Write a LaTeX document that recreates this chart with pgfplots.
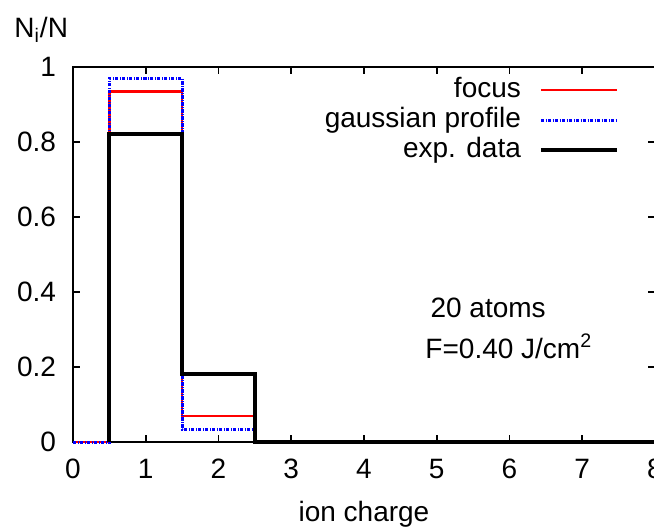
\documentclass[border=0pt]{standalone}
\usepackage{fontspec}
\setmainfont{Liberation Sans}
\usepackage{pgfplots}
\pgfplotsset{compat=1.18}
\newcommand\ff{\fontsize{14}{17}\selectfont}
\definecolor{gpred}{RGB}{255,0,0}
\definecolor{gpblue}{RGB}{0,0,255}
\begin{document}
\begin{tikzpicture}[font=\ff]
\begin{axis}[
  at={(0,0)}, anchor=south west,
  scale only axis, width=291pt, height=187.5pt,
  xmin=0, xmax=8, ymin=0, ymax=1,
  xtick={0,1,2,3,4,5,6,7,8},
  ytick={0,0.2,0.4,0.6,0.8,1},
  tick align=inside, major tick length=3.5pt,
  axis line style={line width=0.9pt},
  every tick/.style={black, line width=0.9pt},
  /pgf/number format/assume math mode=true,
  tick label style={font=\ff},
  xticklabel style={yshift=-5pt},
  yticklabel style={xshift=-5pt},
  xlabel={ion charge}, xlabel style={font=\ff, yshift=-4.5pt},
  clip=false,
  legend image code/.code={\draw[#1] (0pt,0pt) -- (38pt,0pt);},
  legend style={draw=none, fill=none, font=\ff,
    at={(rel axis cs:0.949,0.99)}, anchor=north east,
    nodes={inner sep=1pt, text height=10pt, text depth=3pt},
    row sep=0pt, column sep=8pt},
  legend cell align=right,
  legend plot pos=right,
]
\addplot[gpred, line width=1.3pt, const plot mark mid] coordinates {
  (0,0) (1,0.934) (2,0.069) (3,0) (4,0) (5,0) (6,0) (7,0) (8,0)
};
\addlegendentry{focus}
\addplot[gpblue, line width=1.5pt, const plot mark mid,
  dash pattern=on 1.6pt off 0.7pt on 0.5pt off 0.7pt] coordinates {
  (0,0) (1,0.970) (2,0.034) (3,0) (4,0) (5,0) (6,0) (7,0) (8,0)
};
\addlegendentry{gaussian profile}
\addplot[black, line width=2pt, const plot mark left] coordinates {
  (0.5,0) (0.5,0.821) (1.5,0.181) (2.5,0) (8,0)
};
\addlegendentry{exp. data}
\node[anchor=base west, inner sep=0] at (axis cs:4.91,0.331) {20 atoms};
\node[anchor=base west, inner sep=0] at (axis cs:4.84,0.224) {F=0.40 J/cm\textsuperscript{2}};
\end{axis}
\node[anchor=base west, inner sep=0] at (-29.5pt,202pt) {N\textsubscript{i}/N};
\pgfresetboundingbox
\path (-36.5pt,-44.5pt) rectangle (290.5pt,221pt);
\end{tikzpicture}
\end{document}
